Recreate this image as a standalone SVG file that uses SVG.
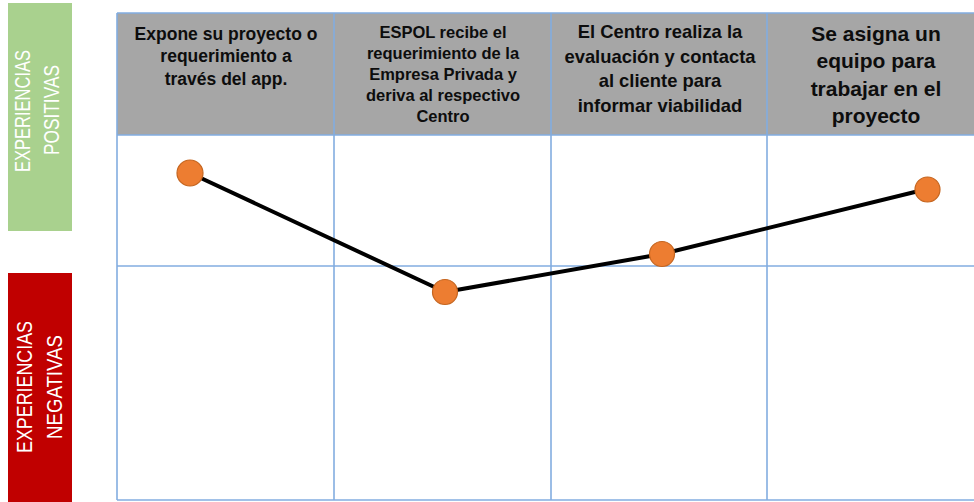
<svg xmlns="http://www.w3.org/2000/svg" width="974" height="502" viewBox="0 0 974 502">
  <style>
    .grid { stroke: #82ade0; stroke-width: 1.6; fill: none; }
    .hdr { fill: #a6a6a6; }
    .ht { font-family: "Liberation Sans", Arial, sans-serif; font-weight: bold; fill: #0d0d0d; text-anchor: middle; }
    .lbl { font-family: "Liberation Sans", Arial, sans-serif; fill: #ffffff; text-anchor: middle; font-size: 21.5px; }
    .dot { fill: #ed7d31; stroke: #c5651f; stroke-width: 1.2; }
    .conn { fill: none; stroke: #000000; stroke-width: 4; stroke-linejoin: round; }
  </style>
  <rect width="974" height="502" fill="#ffffff"/>

  <g id="label-positivas">
    <rect x="8" y="3" width="64" height="228" fill="#a9d18e"/>
    <text class="lbl" transform="translate(30,111) rotate(-90)" textLength="122" lengthAdjust="spacingAndGlyphs">EXPERIENCIAS</text>
    <text class="lbl" transform="translate(59,110) rotate(-90)" textLength="90" lengthAdjust="spacingAndGlyphs">POSITIVAS</text>
  </g>
  <g id="label-negativas">
    <rect x="8" y="273" width="64" height="229" fill="#c00000"/>
    <text class="lbl" transform="translate(32,387) rotate(-90)" textLength="132" lengthAdjust="spacingAndGlyphs">EXPERIENCIAS</text>
    <text class="lbl" transform="translate(62,387) rotate(-90)" textLength="104" lengthAdjust="spacingAndGlyphs">NEGATIVAS</text>
  </g>

  <g id="table">
    <rect class="hdr" x="117" y="13" width="857" height="122"/>
    <line class="grid" x1="117" y1="13" x2="974" y2="13"/>
    <line class="grid" x1="117" y1="135" x2="974" y2="135"/>
    <line class="grid" x1="117" y1="266" x2="974" y2="266"/>
    <line class="grid" x1="117" y1="500" x2="974" y2="500"/>
    <line class="grid" x1="117" y1="13" x2="117" y2="500"/>
    <line class="grid" x1="334" y1="13" x2="334" y2="500"/>
    <line class="grid" x1="551" y1="13" x2="551" y2="500"/>
    <line class="grid" x1="767" y1="13" x2="767" y2="500"/>
  </g>

  <g id="step-1">
    <text class="ht" font-size="17.5" x="226" y="39.5">Expone su proyecto o</text>
    <text class="ht" font-size="17.5" x="226" y="62">requerimiento a</text>
    <text class="ht" font-size="17.5" x="226" y="84.5">través del app.</text>
  </g>
  <g id="step-2">
    <text class="ht" font-size="16.5" x="443" y="37.5">ESPOL recibe el</text>
    <text class="ht" font-size="16.5" x="443" y="58.6">requerimiento de la</text>
    <text class="ht" font-size="16.5" x="443" y="79.7">Empresa Privada y</text>
    <text class="ht" font-size="16.5" x="443" y="100.8">deriva al respectivo</text>
    <text class="ht" font-size="16.5" x="443" y="121.9">Centro</text>
  </g>
  <g id="step-3">
    <text class="ht" font-size="18.4" x="660" y="38.3">El Centro realiza la</text>
    <text class="ht" font-size="18.4" x="660" y="62.8">evaluación y contacta</text>
    <text class="ht" font-size="18.4" x="660" y="87.2">al cliente para</text>
    <text class="ht" font-size="18.4" x="660" y="111.7">informar viabilidad</text>
  </g>
  <g id="step-4">
    <text class="ht" font-size="21" x="876" y="41">Se asigna un</text>
    <text class="ht" font-size="21" x="876" y="68.3">equipo para</text>
    <text class="ht" font-size="21" x="876" y="95.6">trabajar en el</text>
    <text class="ht" font-size="21" x="876" y="123">proyecto</text>
  </g>

  <g id="connectors">
    <polyline class="conn" points="190,173 445,292 662,254 927,189"/>
  </g>

  <g id="point-1"><circle class="dot" cx="190" cy="173" r="13"/></g>
  <g id="point-2"><circle class="dot" cx="445" cy="292" r="12.5"/></g>
  <g id="point-3"><circle class="dot" cx="662" cy="254" r="12.5"/></g>
  <g id="point-4"><circle class="dot" cx="927.5" cy="189.5" r="12.5"/></g>
</svg>
